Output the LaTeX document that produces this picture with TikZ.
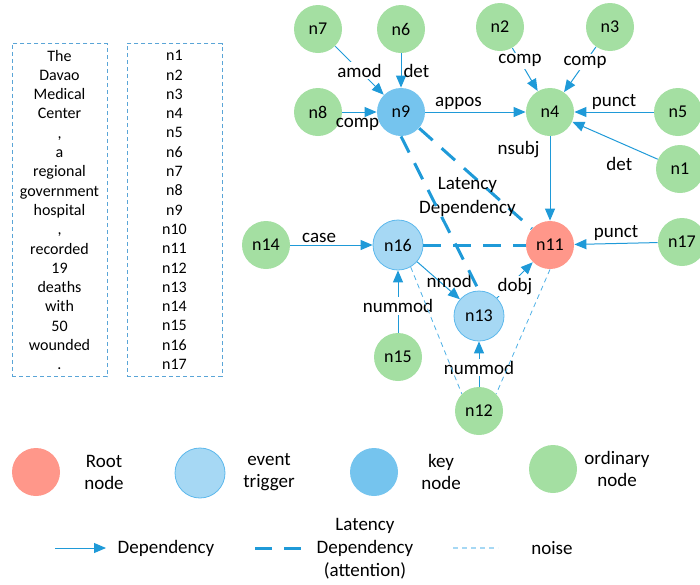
\documentclass[tikz,border=0pt]{standalone}
\usepackage{fontspec}
\setmainfont{Carlito}
\usetikzlibrary{arrows.meta,positioning}
\usepackage{xcolor}
\definecolor{edgeblue}{HTML}{1F9AD8}
\definecolor{rootred}{HTML}{FF978A}
\definecolor{eventblue}{HTML}{A6D8F4}
\definecolor{eventline}{HTML}{5CB8EC}
\definecolor{keyblue}{HTML}{75C4EE}
\definecolor{wordgreen}{HTML}{A4DFA2}
\definecolor{noiseblue}{HTML}{4DB0E6}
\definecolor{boxblue}{HTML}{5AA5D7}

\begin{document}
\begin{tikzpicture}[x=0.5pt,y=-0.5pt]
\tikzstyle{ordinary} = [circle, fill=wordgreen, minimum size=24pt, inner sep=0pt,
font=\fontsize{9}{10}\selectfont]
\tikzstyle{rootnode} = [ordinary, fill=rootred]
\tikzstyle{keynode} = [ordinary, fill=keyblue]
\tikzstyle{trigger} = [ordinary, fill=eventblue, draw=eventline, line width=0.4pt, minimum size=25pt]
\tikzstyle{wordbox} = [rectangle, draw=boxblue, line width=0.5pt, dash pattern=on 2pt off 1.5pt,
minimum width=47.5pt, minimum height=164pt, align=center, font=\fontsize{8}{9.65}\selectfont]
\tikzstyle{dep} = [draw=edgeblue, line width=0.5pt, -{Triangle[length=6pt,width=5pt]}]
\tikzstyle{latency} = [draw=edgeblue, line width=1.5pt, dash pattern=on 9pt off 6pt]
\tikzstyle{noise} = [draw=noiseblue, line width=0.4pt, dash pattern=on 2.5pt off 2pt]
\tikzstyle{lbl} = [font=\fontsize{9.5}{11.5}\selectfont, inner sep=1pt]
\tikzstyle{onlbl} = [lbl, fill=white]
\tikzstyle{legendtxt} = [font=\fontsize{9.5}{11}\selectfont, align=center]
\useasboundingbox (0,0) rectangle (700,584);

% sentence and its tokens
\node [wordbox] (words) at (59.5,210) {The\\Davao\\Medical\\Center\\,\\a\\regional\\government\\hospital\\,\\recorded\\19\\deaths\\with\\50\\wounded\\.};
\node [wordbox] (tokens) at (174.5,210) {n1\\n2\\n3\\n4\\n5\\n6\\n7\\n8\\n9\\n10\\n11\\n12\\n13\\n14\\n15\\n16\\n17};

% top row
\node [ordinary] (n7) at (318,29) {n7};
\node [ordinary] (n6) at (401,29) {n6};
\node [ordinary] (n2) at (500,27) {n2};
\node [ordinary] (n3) at (610,27) {n3};
% second row
\node [ordinary] (n8) at (318,112) {n8};
\node [keynode] (n9) at (401,112) {n9};
\node [ordinary] (n4) at (550,112) {n4};
\node [ordinary] (n5) at (678,112) {n5};
\node [ordinary] (n1) at (680,169) {n1};
% middle row
\node [ordinary] (n14) at (266,245) {n14};
\node [trigger] (n16) at (398,245) {n16};
\node [rootnode] (n11) at (550,245) {n11};
\node [ordinary] (n17) at (682,242) {n17};
% bottom
\node [trigger] (n13) at (479,316) {n13};
\node [ordinary] (n15) at (398,357) {n15};
\node [ordinary] (n12) at (479,411) {n12};

\path[dep] (n7) -- node[onlbl] {amod} (n9);
\path[dep] (n6) -- node[lbl, right] {det} (n9);
\path[dep] (n8) -- node[lbl, below=2pt, xshift=-1pt] {comp} (n9);
\path[dep] (n9) -- node[lbl, above, pos=0.33] {appos} (n4);
\path[dep] (n2) -- node[onlbl, pos=0.3] {comp} (n4);
\path[dep] (n3) -- node[onlbl, pos=0.34] {comp} (n4);
\path[dep] (n5) -- node[lbl, above] {punct} (n4);
\path[dep] (n1) -- node[lbl, below=6pt, pos=0.45] {det} (n4);
\path[dep] (n4) -- node[lbl, left=4pt, pos=0.15] {nsubj} (n11);
\path[dep] (n14) -- node[lbl, above, pos=0.35] {case} (n16);
\path[dep] (n17) -- node[lbl, above] {punct} (n11);
\path[dep] (n16) -- node[lbl, above, pos=0.75] {nmod} (n13);
\path[dep] (n13) -- node[onlbl, yshift=-3pt] {dobj} (n11);
\path[dep] (n15) -- node[onlbl, pos=0.43] {nummod} (n16);
\path[dep] (n12) -- node[onlbl, pos=0.42] {nummod} (n13);

% latency dependency (attention)
\path[latency] (n9) -- node[legendtxt, font=\fontsize{9.5}{12}\selectfont, xshift=-4pt, yshift=-9pt] {Latency\\Dependency} (n11);
\path[latency] (n9.south) -- (n13.north);
\path[latency] (n16) -- (n11);

% noise
\path[noise] (n16.-60) -- (n12.north west);
\path[noise] (n11.south) -- (n12.north east);

% legend
\node [rootnode] (lroot) at (36,472) {};
\node [legendtxt] (lroottxt) at (104,472) {Root\\node};
\node [trigger] (ltrigger) at (200,473) {};
\node [legendtxt] (ltriggertxt) at (269,472) {event\\trigger};
\node [keynode] (lkey) at (374,472) {};
\node [legendtxt] (lkeytxt) at (441,472) {key\\node};
\node [ordinary] (lord) at (553,469) {};
\node [legendtxt] (lordtxt) at (617,469) {ordinary\\node};

\coordinate (depA) at (55,548);
\coordinate (depB) at (106,548);
\path[dep] (depA) -- (depB);
\node [legendtxt] (deptxt) at (166,548) {Dependency};
\coordinate (latA) at (255,548);
\coordinate (latB) at (303,548);
\path[latency, dash pattern=on 8.5pt off 6pt] (latA) -- (latB);
\node [legendtxt, font=\fontsize{9.5}{11.5}\selectfont] (lattxt) at (365,549) {Latency\\Dependency\\(attention)};
\coordinate (noiseA) at (453,548);
\coordinate (noiseB) at (498,548);
\path[noise, draw=eventblue, line width=0.6pt] (noiseA) -- (noiseB);
\node [legendtxt] (noisetxt) at (552,548) {noise};
\end{tikzpicture}
\end{document}
